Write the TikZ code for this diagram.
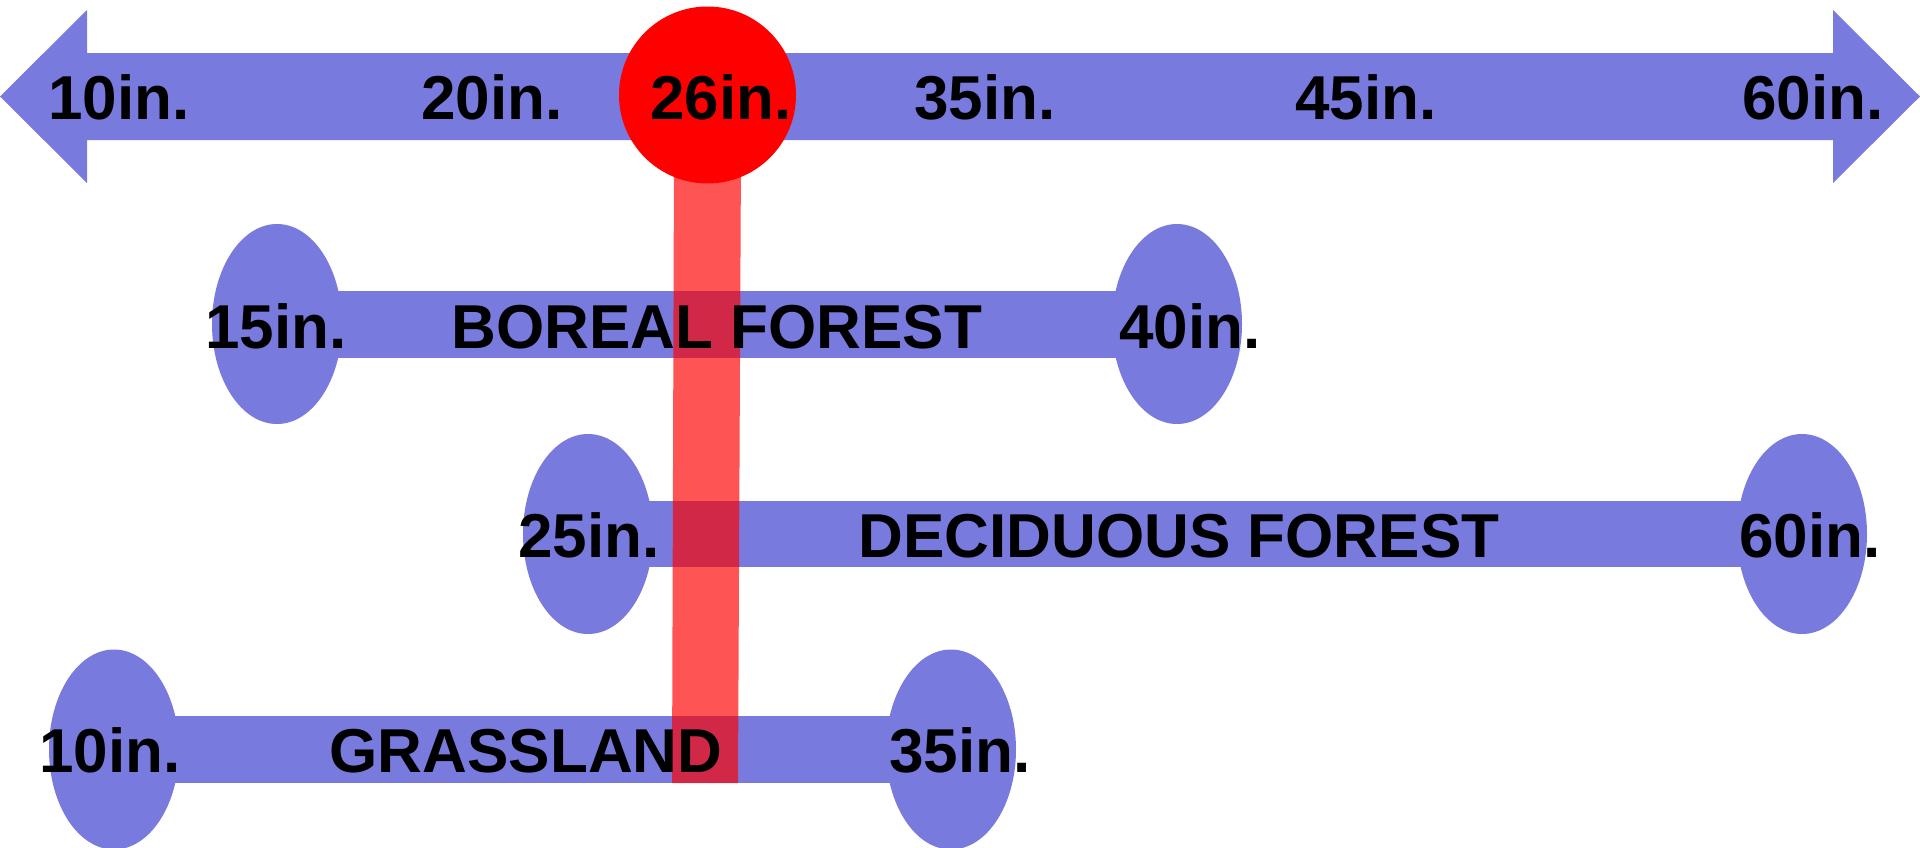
\documentclass[tikz,border=0pt]{standalone}
\usepackage{fontspec}
\setmainfont{Liberation Sans}
\usetikzlibrary{shapes.geometric}
\definecolor{barblue}{RGB}{121,122,221}
\tikzset{
  endcap/.style={ellipse, fill=barblue, minimum width=130pt, minimum height=200pt, inner sep=0pt},
  lbl/.style={anchor=base, inner sep=0pt, font=\fontsize{62pt}{70pt}\selectfont\bfseries, text=black},
  redbar/.style={fill=red, fill opacity=0.67},
}
\begin{document}
\begin{tikzpicture}[x=1pt,y=-1pt]
\useasboundingbox (0,0) rectangle (1920,847);
% top double arrow
\fill[barblue] (0,96.5) -- (87,10) -- (87,53) -- (1833,53) -- (1833,10) -- (1920,96.5)
  -- (1833,183) -- (1833,140) -- (87,140) -- (87,183) -- cycle;
% range bars
\node[endcap] (b1) at (277,324) {};
\node[endcap] (b2) at (1177,324) {};
\fill[barblue] ([yshift=33.5pt]b1.center) rectangle ([yshift=-33.5pt]b2.center);
\node[endcap] (d1) at (588,534) {};
\node[endcap] (d2) at (1802,534) {};
\fill[barblue] ([yshift=33pt]d1.center) rectangle ([yshift=-33pt]d2.center);
\node[endcap] (g1) at (114,749.5) {};
\node[endcap] (g2) at (951,749.5) {};
\fill[barblue] ([yshift=33.5pt]g1.center) rectangle ([yshift=-33.5pt]g2.center);
% red indicator bar
\coordinate (rtop) at (707.5,150);
\coordinate (rbot) at (705,783);
\fill[redbar] ([xshift=-33.5pt]rtop) -- ([xshift=33.5pt]rtop) -- ([xshift=33pt]rbot) -- ([xshift=-33pt]rbot) -- cycle;
\node[circle, fill=red, minimum size=177pt, inner sep=0pt] (c26) at (707.5,95) {};
% labels
\node[lbl] (t10) at (119,119) {10in.};
\node[lbl] (t20) at (492,119) {20in.};
\node[lbl] (t26) at (721,119) {26in.};
\node[lbl] (t35) at (985,119) {35in.};
\node[lbl] (t45) at (1366,119) {45in.};
\node[lbl] (t60) at (1813,119) {60in.};
\node[lbl] (l15) at (276,348) {15in.};
\node[lbl] (lbo) at (717,348) {BOREAL FOREST};
\node[lbl] (l40) at (1190,348) {40in.};
\node[lbl] (l25) at (589,557) {25in.};
\node[lbl] (lde) at (1179,557) {DECIDUOUS FOREST};
\node[lbl] (l60) at (1810,557) {60in.};
\node[lbl] (l10) at (110,772) {10in.};
\node[lbl] (lgr) at (526,772) {GRASSLAND};
\node[lbl] (l35) at (960,772) {35in.};
\end{tikzpicture}
\end{document}
